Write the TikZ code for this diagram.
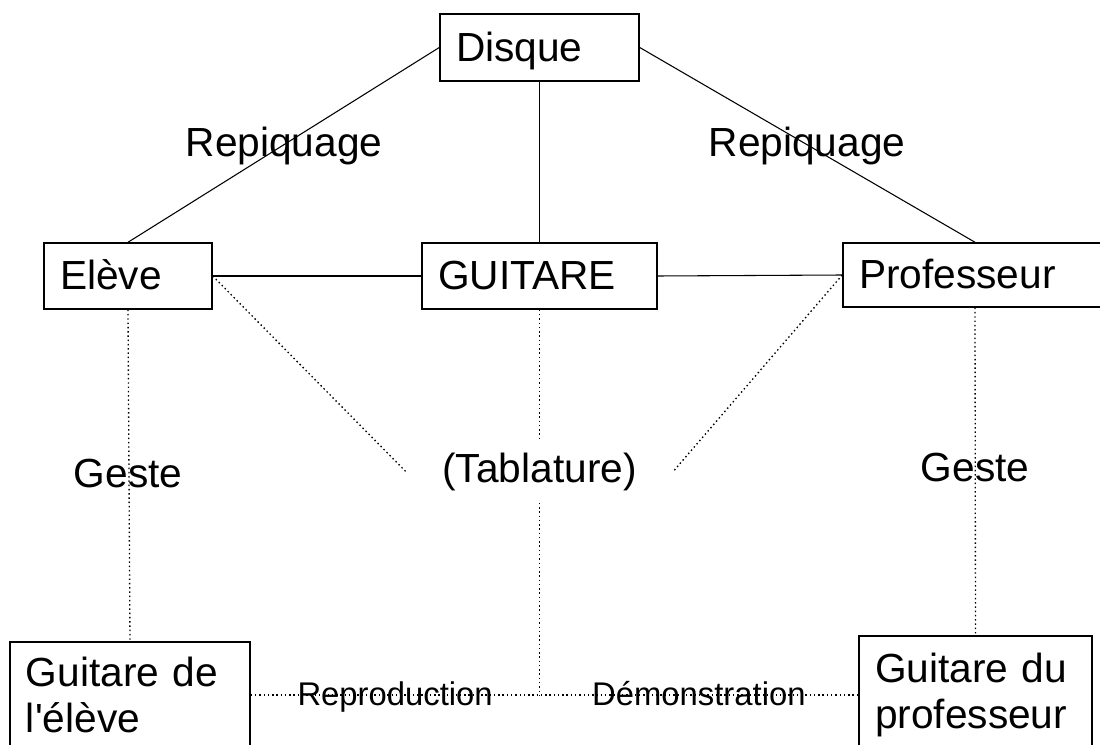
\documentclass[tikz,border=0pt]{standalone}
\usepackage{fontspec}
\newfontfamily\arial{Liberation Sans}
\newcommand\grand{\arial\fontsize{30.5}{34.5}\selectfont}
\newcommand\petit{\arial\fontsize{24.6}{28}\selectfont}
\tikzset{
  boite/.style = {draw,line width=1.1pt,rectangle,inner xsep=12pt,inner ysep=0pt,
    align=left,font=\grand},
  une/.style = {text height=24pt,text depth=3pt},
  texte/.style = {font=\grand,inner sep=0pt},
  trait/.style = {line width=0.8pt},
  pointille/.style = {line width=1pt,dash pattern=on 1.1pt off 2.1pt},
  etiq/.style = {font=\petit,inner sep=0pt,anchor=base,yshift=-7.5pt}
}

\begin{document}
\begin{tikzpicture}[x=0.75pt,y=-0.75pt]
  \clip (0,0) rectangle (1100,745);
  \fill[white] (0,0) rectangle (1100,745);
  \node[boite,une,text width=125.25pt,minimum height=50.25pt] (disque) at (539.5,47.5) {Disque};
  \node[boite,une,text width=102pt,minimum height=49.5pt] (eleve) at (128,276) {Elève};
  \node[boite,une,text width=152.25pt,minimum height=49.5pt] (guitare) at (539.5,276) {GUITARE};
  \node[boite,une,text width=174pt,minimum height=48pt] (prof) at (975,275) {Professeur};
  \node[boite,text width=156pt,minimum height=79.5pt] (geleve) at (130,695) {Guitare de\\l'élève};
  \node[boite,text width=150.75pt,minimum height=88.5pt] (gprof) at (975.5,695) {Guitare du\\professeur};
  \node[texte,minimum width=199.5pt,minimum height=45.75pt] (tab) at (539.5,472) {(Tablature)};
  \node[texte,anchor=base] (rep1) at (284,157) {Repiquage};
  \node[texte,anchor=base] (rep2) at (807,157) {Repiquage};
  \node[texte,anchor=base] (geste1) at (128,487) {Geste};
  \node[texte,anchor=base] (geste2) at (975,481) {Geste};
  \coordinate (jonction) at (539.5,695);

  \draw[trait] (disque.west) -- (eleve.north);
  \draw[trait] (disque.east) -- (prof.north);
  \draw[trait] (disque.south) -- (guitare.north);
  \draw[trait] (eleve.east) -- (guitare.west);
  \draw[trait] (guitare.east) -- (prof.west);

  \draw[pointille] (eleve.east) -- (tab.west);
  \draw[pointille] (prof.west) -- (tab.east);
  \draw[pointille] (eleve.south) -- (geleve.north);
  \draw[pointille] (prof.south) -- (gprof.north);
  \draw[pointille] (guitare.south) -- (tab.north);
  \draw[pointille] (tab.south) -- (jonction);
  \draw[pointille] (geleve.east) -- node[etiq] {Reproduction} (jonction)
    -- node[etiq] {Démonstration} (gprof.west);
\end{tikzpicture}
\end{document}
